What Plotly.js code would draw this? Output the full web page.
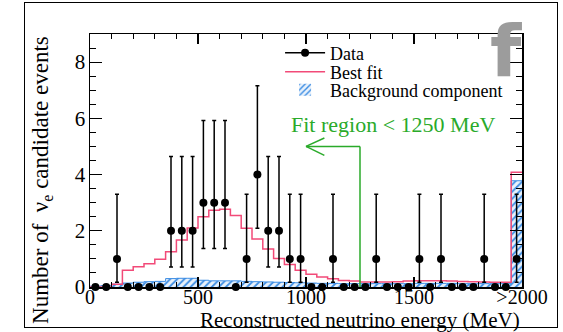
<!DOCTYPE html>
<html>
<head>
<meta charset="utf-8">
<script src="https://cdn.plot.ly/plotly-3.0.1.min.js"></script>
<style>
  html, body { margin: 0; padding: 0; background: #fff; }
  #wrap { position: relative; width: 563px; height: 332px; }
  #chart { position: absolute; left: 0; top: 0; width: 563px; height: 332px; }
  #border { position: absolute; left: 24px; top: 2px; width: 532px; height: 324px; border: 1.5px solid #000; pointer-events: none; }
</style>
</head>
<body>
<div id="wrap">
  <div id="chart"></div>
  <div id="border"></div>
</div>
<script>
// ---- data ----
const binWidth = 50;            // MeV
const binStart = 0;             // MeV
const counts = [0,0,1,0,0,0,0,2,2,2,3,3,3,0,1,4,2,2,1,1,0,0,1,0,0,0,1,0,0,0,1,0,1,0,0,0,1,0,0,1];
// asymmetric error sizes, indexed by count
const errUpByCount   = [0, 2.30, 2.64, 2.92, 3.16];
const errDownByCount = [0, 0.83, 1.29, 1.63, 1.91];
const bestFit = [0.0,0.0,0.1,0.6,0.72,0.83,0.99,1.25,1.67,2.1,2.5,2.73,2.77,2.54,2.09,1.71,1.35,1.01,0.8,0.6,
                 0.45,0.36,0.29,0.23,0.21,0.18,0.18,0.18,0.19,0.21,0.22,0.22,0.22,0.21,0.2,0.19,0.18,0.17,0.17,4.08];
const background = [0.03,0.05,0.1,0.14,0.17,0.19,0.2,0.3,0.31,0.31,0.24,0.22,0.22,0.22,0.2,0.19,0.18,0.17,0.16,0.15,
                    0.14,0.13,0.13,0.12,0.12,0.12,0.12,0.12,0.12,0.12,0.13,0.13,0.13,0.13,0.12,0.12,0.12,0.12,0.12,3.78];
const xTickVals = [0, 500, 1000, 1500, 2000];
const xTickText = ['0', '500', '1000', '1500', '>2000'];
const yTickVals = [0, 2, 4, 6, 8];
const fitLimit = 1250;          // MeV
const fitLabel = 'Fit region < 1250 MeV';

// ---- derived ----
const nBins = counts.length;
const centers = counts.map((_, i) => binStart + (i + 0.5) * binWidth);
const edges = counts.map((_, i) => binStart + i * binWidth);
const stepX = edges.concat([binStart + nBins * binWidth]);
const fitY = bestFit.concat([bestFit[nBins - 1]]);
const bgY = background.concat([background[nBins - 1]]);
const errUp = counts.map(c => errUpByCount[c]);
const errDown = counts.map(c => errDownByCount[c]);

const serif = 'Liberation Serif, Times New Roman, serif';
const red = '#f24a78';
const blue = '#3d8de3';
const green = '#2aaa2a';

const traces = [
  { type: 'bar', x: centers, y: background, width: binWidth, name: 'Background component', legend: 'legend3',
    marker: { color: '#dce9f8', line: { width: 0 },
      pattern: { shape: '/', fgcolor: blue, bgcolor: '#e8f1fb', size: 5, solidity: 0.35 } },
    showlegend: true, hoverinfo: 'skip' },
  { type: 'scatter', mode: 'lines', x: stepX, y: bgY, line: { shape: 'hv', color: blue, width: 1 },
    showlegend: false, hoverinfo: 'skip' },
  { type: 'scatter', mode: 'lines', x: stepX, y: fitY, name: 'Best fit', legend: 'legend2',
    line: { shape: 'hv', color: red, width: 1.5 }, hoverinfo: 'skip' },
  { type: 'scatter', mode: 'markers', x: centers, y: counts, showlegend: false, cliponaxis: false,
    marker: { color: '#000', size: 8 },
    error_y: { type: 'data', symmetric: false, array: errUp, arrayminus: errDown,
               color: '#000', thickness: 1.5, width: 2 } },
  { type: 'scatter', mode: 'lines+markers', x: [null], y: [null], name: 'Data', legend: 'legend',
    line: { color: '#000', width: 1.5 }, marker: { color: '#000', size: 8 } }
];

function legendAt(y) {
  return {
    x: 0.44, y: y, xanchor: 'left', yanchor: 'middle',
    bgcolor: 'rgba(0,0,0,0)', borderwidth: 0, itemwidth: 40,
    font: { family: serif, size: 18, color: '#000' }
  };
}

const layout = {
  width: 563, height: 332,
  margin: { l: 90, r: 41, t: 34, b: 45 },
  paper_bgcolor: '#fff', plot_bgcolor: '#fff',
  showlegend: true,
  barmode: 'overlay', bargap: 0,
  font: { family: serif, color: '#000' },
  xaxis: {
    range: [0, 2000], tickmode: 'array', tickvals: xTickVals, ticktext: xTickText,
    ticks: 'inside', ticklen: 10, tickwidth: 1.2, tickcolor: '#000', ticklabelstandoff: -9,
    minor: { tickmode: 'linear', tick0: 0, dtick: 100, ticks: 'inside', ticklen: 5, tickwidth: 1, tickcolor: '#000' },
    showline: true, linecolor: '#000', linewidth: 1.5, mirror: 'ticks',
    showgrid: false, zeroline: false,
    tickfont: { family: serif, size: 20, color: '#000' }
  },
  yaxis: {
    range: [0, 9], tickmode: 'array', tickvals: yTickVals,
    ticks: 'inside', ticklen: 12, tickwidth: 1.2, tickcolor: '#000', ticklabelstandoff: -1,
    minor: { tickmode: 'linear', tick0: 0, dtick: 0.5, ticks: 'inside', ticklen: 6, tickwidth: 1, tickcolor: '#000' },
    showline: true, linecolor: '#000', linewidth: 1.5, mirror: 'ticks',
    showgrid: false, zeroline: false,
    tickfont: { family: serif, size: 21, color: '#000' }
  },
  legend: legendAt(0.925),
  legend2: legendAt(0.850),
  legend3: legendAt(0.778),
  shapes: [
    { type: 'line', xref: 'x', yref: 'y', x0: fitLimit, x1: fitLimit, y0: 0, y1: 5.0, line: { color: green, width: 1.5 } },
    { type: 'line', xref: 'x', yref: 'y', x0: fitLimit, x1: 1000, y0: 5.0, y1: 5.0, line: { color: green, width: 1.5 } },
    { type: 'line', xref: 'x', yref: 'y', x0: 1000, x1: 1085, y0: 5.0, y1: 5.3, line: { color: green, width: 1.5 } },
    { type: 'line', xref: 'x', yref: 'y', x0: 1000, x1: 1085, y0: 5.0, y1: 4.68, line: { color: green, width: 1.5 } }
  ],
  annotations: [
    { text: fitLabel, xref: 'paper', yref: 'paper', x: 0.702, y: 0.643, xanchor: 'center', yanchor: 'middle',
      showarrow: false, font: { family: serif, size: 22, color: green } },
    { text: 'Reconstructed neutrino energy (MeV)', xref: 'paper', yref: 'paper', x: 1.0, y: -0.13,
      xanchor: 'right', yanchor: 'middle', showarrow: false, font: { family: serif, size: 21, color: '#000' } },
    { text: 'Number of  ν<sub>e</sub> candidate events', xref: 'paper', yref: 'paper', x: -0.11, y: 0.425,
      xanchor: 'center', yanchor: 'middle', textangle: -90, showarrow: false,
      font: { family: serif, size: 23, color: '#000' } },
    { text: '<b>f</b>', xref: 'paper', yref: 'paper', x: 0.962, y: 0.933, xanchor: 'center', yanchor: 'middle',
      showarrow: false, font: { family: 'DejaVu Sans, sans-serif', size: 72, color: '#9c9c9c' } }
  ]
};

Plotly.newPlot('chart', traces, layout, { staticPlot: true, displayModeBar: false });
</script>
</body>
</html>
